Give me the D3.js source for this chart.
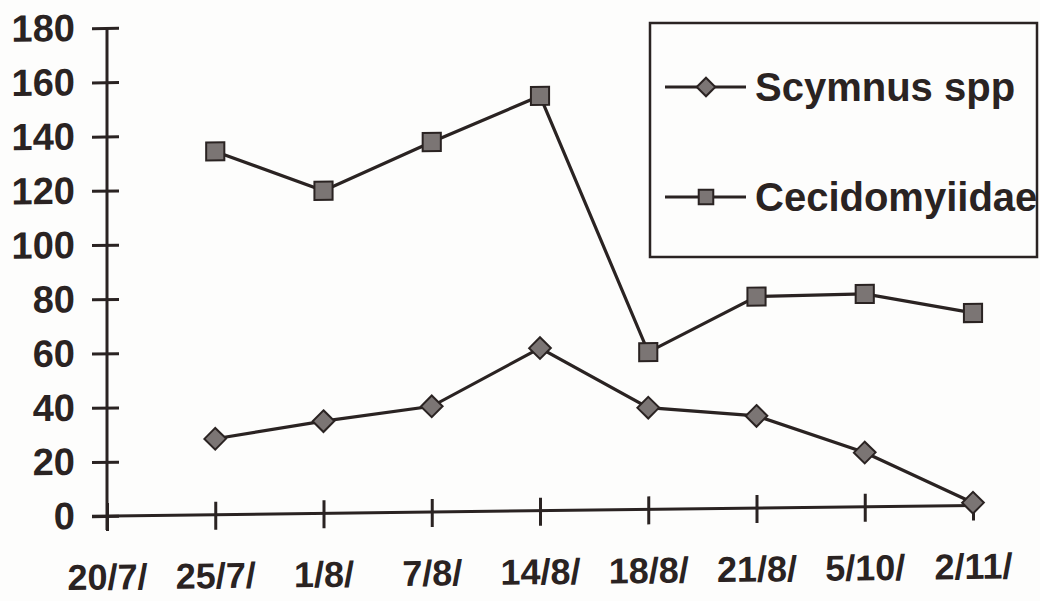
<!DOCTYPE html>
<html lang="en">
<head>
    <meta charset="UTF-8">
    <title>Scymnus spp / Cecidomyiidae</title>
    <style>
        body, html {
            margin: 0;
            padding: 0;
            width: 100%;
            height: 100%;
            overflow: hidden;
            background: #fdfdfc;
        }
        svg text {
            font-family: "Liberation Sans", Arial, sans-serif;
            font-weight: bold;
            fill: #2a2322;
        }
    </style>
    <script src="https://d3js.org/d3.v7.min.js"></script>
</head>
<body>
    <div id="chart"></div>

    <script>
        const dates = ["20/7/", "25/7/", "1/8/", "7/8/", "14/8/", "18/8/", "21/8/", "5/10/", "2/11/"];
        const scymnus = [null, 28, 34, 39, 60, 37.5, 34, 20, 1];
        const cecidomyiidae = [null, 134, 119, 136.5, 153, 58, 78, 78.5, 71];
        const yTicks = [0, 20, 40, 60, 80, 100, 120, 140, 160, 180];
        const seriesNames = ["Scymnus spp", "Cecidomyiidae"];

        const width = 1040, height = 601;
        const ink = "#2a2322", markerFill = "#7b7574";

        const svg = d3.select("#chart").append("svg")
            .attr("width", width)
            .attr("height", height);

        // the scan is slightly sheared: x axis rises ~10px from left to right
        const g = svg.append("g")
            .attr("transform", "translate(107,0) skewY(-0.7) translate(-107,0)");

        const x = d3.scalePoint().domain(dates).range([107, 973]);
        const y = d3.scaleLinear().domain([0, 180]).range([516, 28]);

        // y axis
        const yAxis = g.append("g")
            .attr("transform", "translate(107,0)")
            .call(d3.axisLeft(y).tickValues(yTicks).tickSize(15).tickPadding(17));
        yAxis.select(".domain").attr("d", `M0,${y(180)}V${y(0) + 14}`);
        yAxis.selectAll(".tick line").attr("x1", 12).attr("x2", -15);
        yAxis.selectAll("text").style("font-size", "38px");

        // x axis
        const xAxis = g.append("g")
            .attr("transform", `translate(0,${y(0)})`)
            .call(d3.axisBottom(x).tickSize(15).tickPadding(33));
        xAxis.select(".domain").attr("d", "M92,0H973");
        xAxis.selectAll(".tick line").attr("y1", -13).attr("y2", 15);
        xAxis.selectAll("text").style("font-size", "36px");

        g.selectAll(".domain, .tick line")
            .attr("stroke", ink)
            .attr("stroke-width", 3);

        const line = d3.line()
            .defined(d => d != null)
            .x((d, i) => x(dates[i]))
            .y(d => y(d));

        const diamond = d3.symbol().type(d3.symbolDiamond2).size(300);
        const square = d3.symbol().type(d3.symbolSquare2).size(420);

        function drawSeries(values, symbol) {
            g.append("path")
                .datum(values)
                .attr("fill", "none")
                .attr("stroke", ink)
                .attr("stroke-width", 3.2)
                .attr("d", line);
            g.selectAll(null)
                .data(values.map((v, i) => ({ v, i })).filter(d => d.v != null))
                .enter().append("path")
                .attr("d", symbol)
                .attr("transform", d => `translate(${x(dates[d.i])},${y(d.v)})`)
                .attr("fill", markerFill)
                .attr("stroke", ink)
                .attr("stroke-width", 2);
        }

        drawSeries(cecidomyiidae, square);
        drawSeries(scymnus, diamond);

        // legend (kept in screen coordinates)
        const legend = svg.append("g");
        legend.append("rect")
            .attr("x", 650).attr("y", 23)
            .attr("width", 387).attr("height", 234)
            .attr("fill", "#fdfdfc")
            .attr("stroke", ink)
            .attr("stroke-width", 2.5);

        const legendDiamond = d3.symbol().type(d3.symbolDiamond2).size(220);
        const legendSquare = d3.symbol().type(d3.symbolSquare2).size(270);
        const rows = [
            { name: seriesNames[0], symbol: legendDiamond, y: 87 },
            { name: seriesNames[1], symbol: legendSquare, y: 197 }
        ];
        rows.forEach(r => {
            legend.append("line")
                .attr("x1", 665).attr("x2", 746)
                .attr("y1", r.y).attr("y2", r.y)
                .attr("stroke", ink).attr("stroke-width", 3);
            legend.append("path")
                .attr("d", r.symbol())
                .attr("transform", `translate(706,${r.y})`)
                .attr("fill", markerFill)
                .attr("stroke", ink)
                .attr("stroke-width", 2);
            legend.append("text")
                .attr("x", 755).attr("y", r.y)
                .attr("dy", "0.36em")
                .style("font-size", "40px")
                .text(r.name);
        });
    </script>
</body>
</html>
